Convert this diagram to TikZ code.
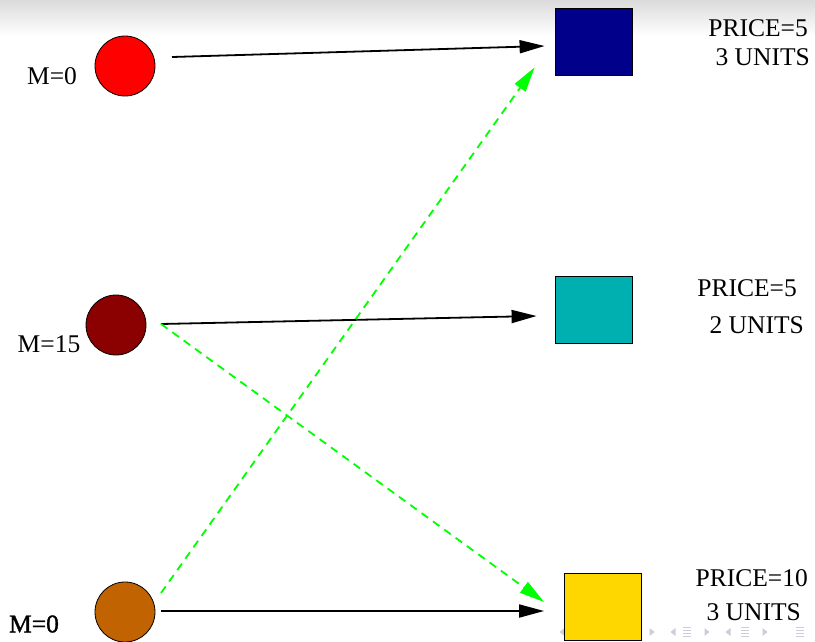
\documentclass[tikz,border=0pt]{standalone}
\usepackage{fontspec}
\setmainfont{Liberation Serif}
\newfontfamily\heavyserif[FakeBold=1.2]{Liberation Serif}
\usetikzlibrary{arrows.meta,calc}
\definecolor{cred}{RGB}{255,0,0}
\definecolor{cdred}{RGB}{139,0,0}
\definecolor{corange}{RGB}{192,99,0}
\definecolor{cnavy}{RGB}{0,0,139}
\definecolor{cteal}{RGB}{0,176,176}
\definecolor{cgold}{RGB}{255,215,0}
\definecolor{navgray}{RGB}{205,205,218}
\begin{document}
\begin{tikzpicture}[x=1pt,y=-1pt,
  buyer/.style={circle,draw=black,line width=0.8pt,minimum size=60pt,inner sep=0pt},
  good/.style={rectangle,draw=black,line width=0.8pt,minimum width=77pt,minimum height=67pt,inner sep=0pt},
  lbl/.style={inner sep=0pt,font=\fontsize{25.5}{30}\selectfont},
  trade/.style={line width=1.8pt,-{Triangle[length=25pt,width=13pt]}},
  offer/.style={line width=1.8pt,draw={rgb,255:red,0;green,255;blue,0},dash pattern=on 8pt off 6pt,-{Triangle[length=25pt,width=13pt]}},
  navtri/.style={fill=navgray,draw=none}]
\useasboundingbox (0,0) rectangle (815,641);
\shade[top color=black!14,bottom color=white] (0,0) rectangle (815,36);
% navigation symbols
\foreach \x in {562,673,728}{\fill[navtri] (\x-2.5,632) -- (\x+2.5,628) -- (\x+2.5,636) -- cycle;}
\foreach \x in {652,707,765}{\fill[navtri] (\x+2.5,632) -- (\x-2.5,628) -- (\x-2.5,636) -- cycle;}
\foreach \x in {687,745,800}{\foreach \yy in {627.5,630.5,633.5,636.5}{\draw[navgray,line width=0.9pt] (\x-4,\yy) -- (\x+4,\yy);}}
% buyers
\node[buyer,fill=cred]    (b1) at (125,66)  {};
\node[buyer,fill=cdred]   (b2) at (116,325) {};
\node[buyer,fill=corange] (b3) at (125,612) {};
% goods
\node[good,fill=cnavy] (g1) at (593.5,41.5)  {};
\node[good,fill=cteal] (g2) at (593.5,309.5) {};
\node[good,fill=cgold] (g3) at (603,607)    {};
% labels
\node[lbl] (m1) at (52,76)  {M=0};
\node[lbl] (m2) at (49,344) {M=15};
\node[lbl,font=\fontsize{25.5}{30}\selectfont\heavyserif] (m3) at (34,624) {M=0};
\node[lbl,anchor=east] (p1) at (808,28)  {PRICE=5};
\node[lbl,anchor=east] (u1) at (810,57)  {3 UNITS};
\node[lbl,anchor=east] (p2) at (797,288.5) {PRICE=5};
\node[lbl,anchor=east] (u2) at (804,325.5) {2 UNITS};
\node[lbl,anchor=east] (p3) at (808,578) {PRICE=10};
\node[lbl,anchor=east] (u3) at (801,612) {3 UNITS};
% connectors
\draw[trade] ($(b1.center)+(47,-9)$) -- ($(g1.west)+(-10,4.5)$);
\draw[trade] ($(b2.center)+(45,-1)$) -- ($(g2.west)+(-18,6.5)$);
\draw[trade] ($(b3.center)+(36,-1)$) -- ($(g3.west)+(-20,4)$);
\draw[offer] ($(b3.center)+(36,-19)$) -- ($(g1.south west)+(-20,-8)$);
\draw[offer] ($(b2.center)+(45,-1)$) -- ($(g3.west)+(-20,-5)$);
\end{tikzpicture}
\end{document}
